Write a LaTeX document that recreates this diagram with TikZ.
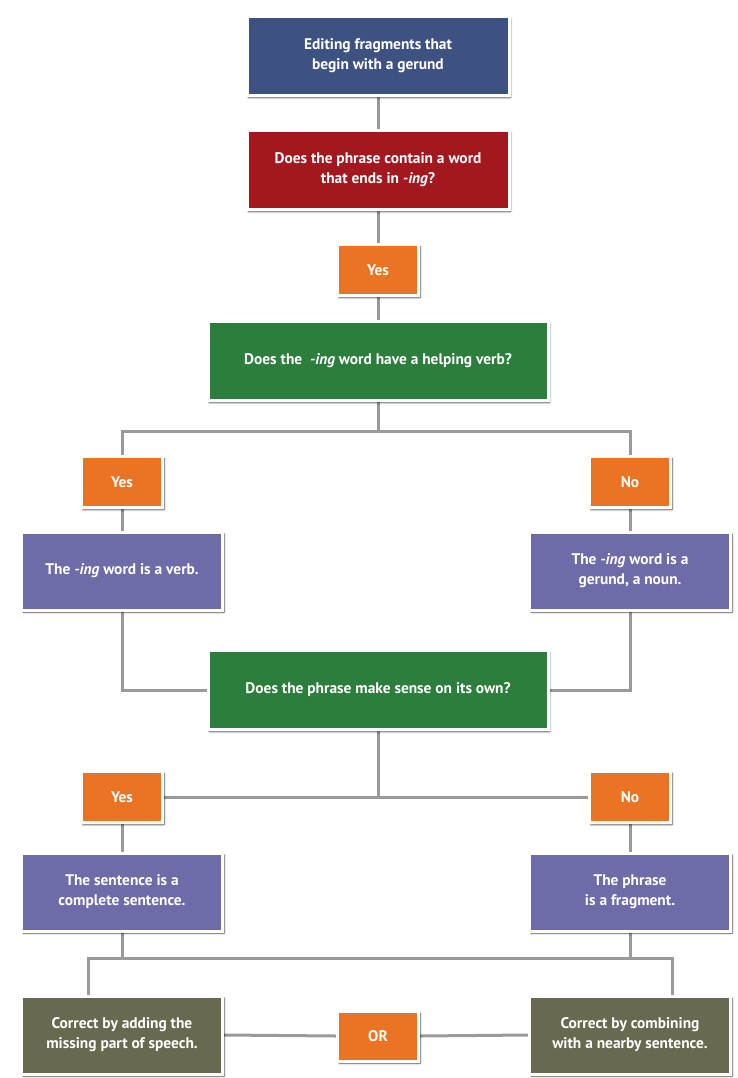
\documentclass[tikz,border=0pt]{standalone}
\usepackage{fontspec}
\setmainfont{PT Sans}
\usetikzlibrary{shadows.blur,backgrounds}
\definecolor{cblue}{HTML}{3E5282}
\definecolor{cred}{HTML}{A3181F}
\definecolor{corange}{HTML}{EA7423}
\definecolor{cgreen}{HTML}{2B7E3B}
\definecolor{cpurple}{HTML}{6E6BA9}
\definecolor{colive}{HTML}{68694F}
\definecolor{cline}{HTML}{9A9A9A}
\tikzset{
  box/.style={draw=white, line width=3pt, text=white, align=center, inner sep=0pt,
    font=\bfseries\fontsize{15.4}{20}\selectfont,
    blur shadow={shadow blur steps=6, shadow xshift=1.5pt, shadow yshift=-2pt, shadow opacity=70}},
  bigbox/.style={box, minimum width=262pt, minimum height=79pt},
  widebox/.style={box, minimum width=340pt, minimum height=79pt},
  sidebox/.style={box, minimum width=201pt, minimum height=78pt},
  tag/.style={box, fill=corange, minimum width=81pt, minimum height=51pt},
  link/.style={draw=cline, line width=3pt},
}
\begin{document}
\begin{tikzpicture}[x=1pt,y=-1pt]
\useasboundingbox (0,0) rectangle (737,1078);
\node[bigbox, fill=cblue] (title) at (378,56) {Editing fragments that\\begin with a gerund};
\node[bigbox, fill=cred] (q1) at (378,170) {Does the phrase contain a word\\that ends in \textit{-ing}?};
\node[tag] (yes1) at (378,270) {Yes};
\node[widebox, fill=cgreen] (q2) at (378,361) {Does the \ \textit{-ing} word have a helping verb?};
\node[tag] (yesA) at (122,482) {Yes};
\node[tag] (noA) at (630,482) {No};
\node[sidebox, fill=cpurple] (verb) at (122,571) {The \textit{-ing} word is a verb.};
\node[sidebox, fill=cpurple] (gerund) at (630,571) {The \textit{-ing} word is a\\gerund, a noun.};
\node[widebox, fill=cgreen] (q3) at (378,690) {Does the phrase make sense on its own?};
\node[tag] (yesB) at (122,797) {Yes};
\node[tag] (noB) at (630,797) {No};
\node[sidebox, fill=cpurple] (complete) at (122,892) {The sentence is a\\complete sentence.};
\node[sidebox, fill=cpurple] (frag) at (630,892) {The phrase\\is a fragment.};
\node[sidebox, fill=colive] (fixA) at (122,1035) {Correct by adding the\\missing part of speech.};
\node[sidebox, fill=colive] (fixB) at (630,1035) {Correct by combining\\with a nearby sentence.};
\node[tag, minimum height=50pt] (or) at (378,1036) {OR};
\coordinate (b1) at (378,431);
\coordinate (b2) at (378,797);
\coordinate (b3) at (122,958);
\coordinate (b4) at (630,958);
\coordinate (c1) at (88,958);
\coordinate (c2) at (672,958);
\begin{pgfonlayer}{background}
\draw[link] (title) -- (q1);
\draw[link] (q1) -- (yes1);
\draw[link] (yes1) -- (q2);
\draw[link] (q2.south) -- (b1);
\draw[link] (yesA.north) |- (b1) -| (noA.north);
\draw[link] (yesA) -- (verb);
\draw[link] (noA) -- (gerund);
\draw[link] (verb.south) |- (q3.west);
\draw[link] (gerund.south) |- (q3.east);
\draw[link] (q3.south) -- (b2);
\draw[link] (yesB.east) -- (noB.west);
\draw[link] (yesB) -- (complete);
\draw[link] (noB) -- (frag);
\draw[link] (complete.south) -- (b3);
\draw[link] (frag.south) -- (b4);
\draw[link] (c1 |- fixA.north) -- (c1) -- (c2) -- (c2 |- fixB.north);
\draw[link] (fixA.east) -- (or.west);
\draw[link] (or.east) -- (fixB.west);
\end{pgfonlayer}
\end{tikzpicture}
\end{document}
